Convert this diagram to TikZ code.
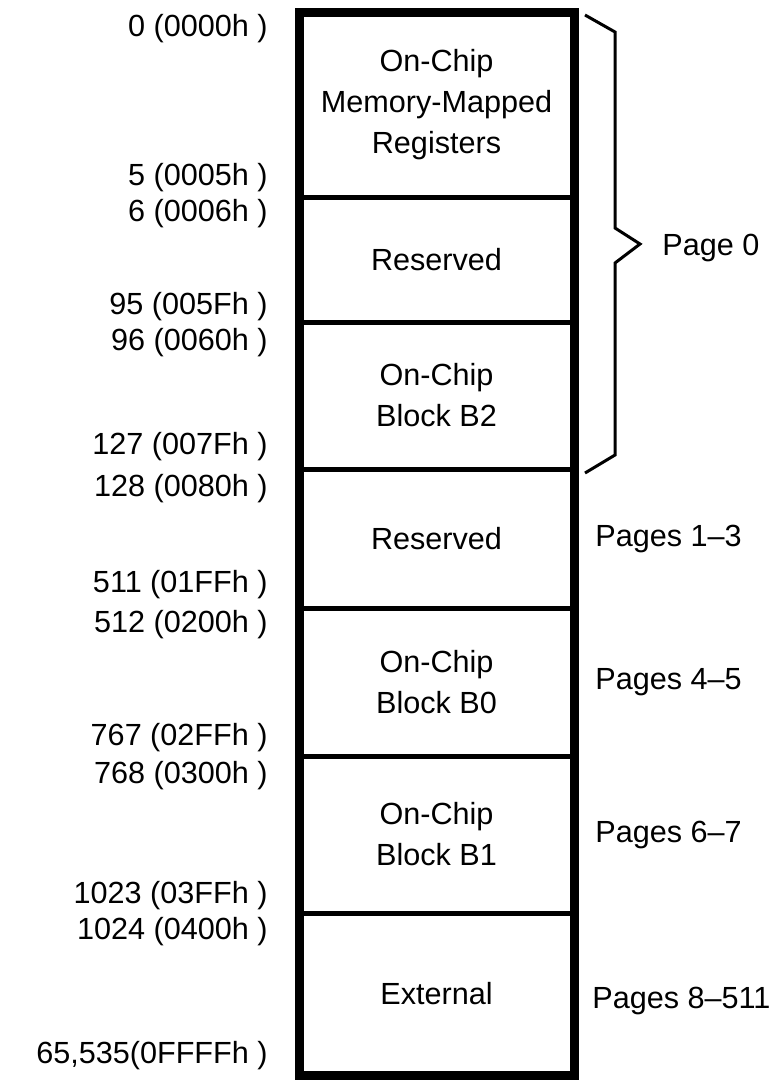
\documentclass[tikz,border=0pt]{standalone}
\usepackage{fontspec}
\setmainfont{Liberation Sans}
\usetikzlibrary{positioning,calc}

\begin{document}
\begin{tikzpicture}[
  font=\fontsize{15.3}{20.5}\selectfont,
  blk/.style={draw, line width=2.5pt, minimum width=137.5pt, outer sep=0pt, inner sep=0pt, align=center},
  addr/.style={anchor=base east, inner sep=0pt},
  pglbl/.style={inner sep=0pt},
  brc/.style={line width=1.5pt, line join=miter},
]
\useasboundingbox (0,0) rectangle (384.5pt,-540.5pt);
% memory blocks, top to bottom
\node[blk, minimum height=92pt, anchor=north west] (mmr) at (149.5pt,-6.5pt) {On-Chip\\Memory-Mapped\\Registers};
\node[blk, minimum height=62.5pt, below=0pt of mmr] (rsv1) {Reserved};
\node[blk, minimum height=73.5pt, below=0pt of rsv1] (blkb2) {On-Chip\\Block B2};
\node[blk, minimum height=69.5pt, below=0pt of blkb2] (rsv2) {Reserved};
\node[blk, minimum height=74pt, below=0pt of rsv2] (blkb0) {On-Chip\\Block B0};
\node[blk, minimum height=78.5pt, below=0pt of blkb0] (blkb1) {On-Chip\\Block B1};
\node[blk, minimum height=81pt, below=0pt of blkb1] (extm) {External};
\draw[line width=4.5pt] (mmr.north west) rectangle (extm.south east);

% addresses
\node[addr] (a0000) at ([xshift=-15.5pt,yshift=-12pt]mmr.north west) {0 (0000h )};
\node[addr] (a0005) at ([xshift=-15.5pt,yshift=6pt]mmr.south west) {5 (0005h )};
\node[addr] (a0006) at ([xshift=-15.5pt,yshift=-12pt]rsv1.north west) {6 (0006h )};
\node[addr] (a005F) at ([xshift=-15.5pt,yshift=4pt]rsv1.south west) {95 (005Fh )};
\node[addr] (a0060) at ([xshift=-15.5pt,yshift=-14pt]blkb2.north west) {96 (0060h )};
\node[addr] (a007F) at ([xshift=-15.5pt,yshift=7.5pt]blkb2.south west) {127 (007Fh )};
\node[addr] (a0080) at ([xshift=-15.5pt,yshift=-13.5pt]rsv2.north west) {128 (0080h )};
\node[addr] (a01FF) at ([xshift=-15.5pt,yshift=8pt]rsv2.south west) {511 (01FFh )};
\node[addr] (a0200) at ([xshift=-15.5pt,yshift=-12pt]blkb0.north west) {512 (0200h )};
\node[addr] (a02FF) at ([xshift=-15.5pt,yshift=5.5pt]blkb0.south west) {767 (02FFh )};
\node[addr] (a0300) at ([xshift=-15.5pt,yshift=-13.5pt]blkb1.north west) {768 (0300h )};
\node[addr] (a03FF) at ([xshift=-15.5pt,yshift=5pt]blkb1.south west) {1023 (03FFh )};
\node[addr] (a0400) at ([xshift=-15.5pt,yshift=-13pt]extm.north west) {1024 (0400h )};
\node[addr] (aFFFF) at ([xshift=-15.5pt,yshift=6pt]extm.south west) {65,535(0FFFFh )};

% page brace and page labels
\coordinate (bt) at ([xshift=5.5pt,yshift=-1pt]mmr.north east);
\coordinate (bb) at ([xshift=5.5pt,yshift=-2pt]blkb2.south east);
\coordinate (tip) at ($(bt)!0.5!(bb)+(27.5pt,0)$);
\draw[brc] (bt) -- ++(15pt,-8.5pt) -- ([xshift=-12.5pt,yshift=8pt]tip) -- (tip)
  -- ([xshift=-12.5pt,yshift=-9.5pt]tip) -- ([xshift=15pt,yshift=9pt]bb) -- (bb);
\node[pglbl, right=11pt of tip, yshift=-2pt] (pg0) {Page 0};
\node[pglbl, right=10.5pt of rsv2] (pg13) {Pages 1–3};
\node[pglbl, right=10.5pt of blkb0] (pg45) {Pages 4–5};
\node[pglbl, right=10.5pt of blkb1] (pg67) {Pages 6–7};
\node[pglbl, right=9pt of extm, yshift=-3.5pt] (pg8) {Pages 8–511};
\end{tikzpicture}
\end{document}
